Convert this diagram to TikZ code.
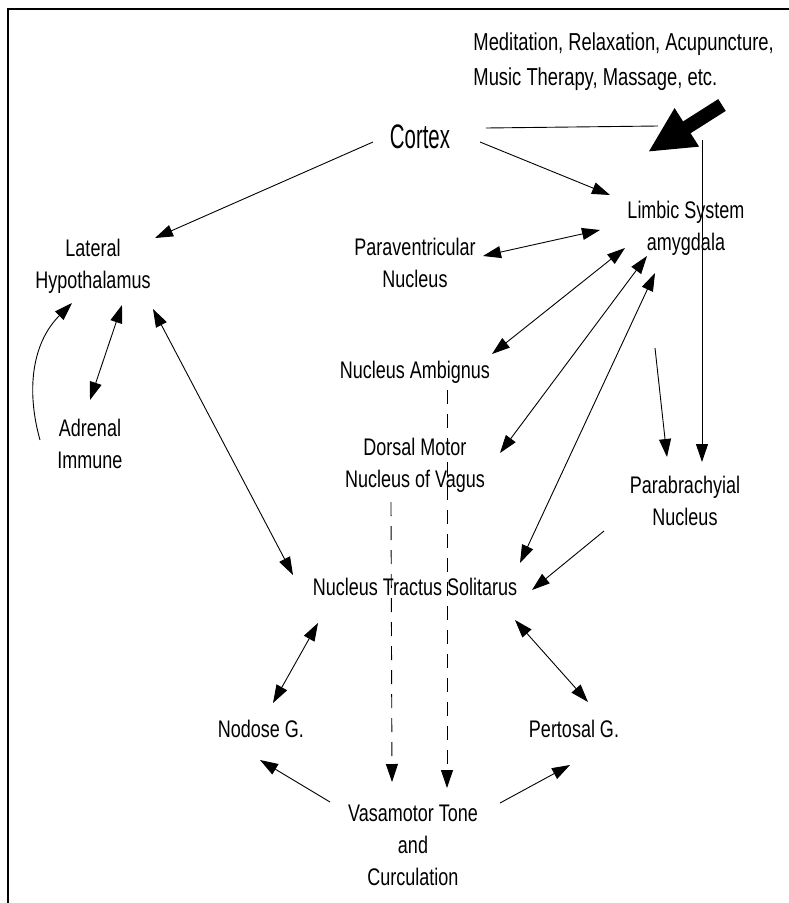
\documentclass[tikz,border=0pt]{standalone}
\usepackage{fontspec}
\setmainfont{Liberation Sans}[FakeStretch=0.75]
\newfontfamily\cortexfamily{Liberation Sans}[FakeStretch=0.6]
\usetikzlibrary{arrows.meta,calc}

\begin{document}
\begin{tikzpicture}[x=1pt,y=1pt,line width=0.9pt,
    >={Triangle[length=18pt,width=12pt]},
    every node/.style={inner sep=0pt,align=center,anchor=base,
      font=\fontsize{24}{32}\selectfont},
    dashline/.style={dash pattern=on 14pt off 10pt},
    bigarrow/.style={line width=14pt,-{Triangle[length=46pt,width=42pt]}}]
\useasboundingbox (0,0) rectangle (789,-903);
\draw [line width=1.5pt] (8,-903) -- (8,-9) -- (789,-9);

% labels (base = last line)
\node (med) at (473,-85) [anchor=base west,align=left,
  font=\fontsize{24.5}{35}\selectfont]
  {Meditation, Relaxation, Acupuncture,\\Music Therapy, Massage, etc.};
\node (cortex) at (420,-148) [font=\cortexfamily\fontsize{34}{40}\selectfont] {Cortex};
\node (limbic) at (686,-250) {Limbic System\\amygdala};
\node (paraven) at (415,-287) {Paraventricular\\Nucleus};
\node (lathyp) at (93,-288) {Lateral\\Hypothalamus};
\node (adrenal) at (90,-468) {Adrenal\\Immune};
\node (ambig) at (415,-378) {Nucleus Ambignus};
\node (dmnv) at (415,-487) {Dorsal Motor\\Nucleus of Vagus};
\node (parab) at (685,-525) {Parabrachyial\\Nucleus};
\node (nts) at (415,-595) {Nucleus Tractus Solitarus};
\node (nodose) at (261,-737) {Nodose G.};
\node (pertosal) at (574,-737) {Pertosal G.};
\node (vaso) at (413,-885) {Vasamotor Tone\\and\\Curculation};
\coordinate (hub) at (680,-135);

% therapies
\draw [bigarrow] ([shift={(249,-20)}]med.base west) -- ([shift={(-32,-17)}]hub);
\draw ([shift={(66,20)}]cortex.base) -- ([shift={(-22,9)}]hub);
\draw [->] ([shift={(22,-5)}]hub) -- ([shift={(17,63)}]parab.base);

% cortex and limbic
\draw [->] ([shift={(-47,6)}]cortex.base) -- ([shift={(62,50)}]lathyp.base);
\draw [->] ([shift={(60,6)}]cortex.base) -- ([shift={(-76,55)}]limbic.base);
\draw [<->] ([shift={(68,31)}]paraven.base) -- ([shift={(-86,20)}]limbic.base);
\draw [<->] ([shift={(-61,2)}]limbic.base) -- ([shift={(77,24)}]ambig.base);
\draw [<->] ([shift={(-39,-6)}]limbic.base) -- ([shift={(85,34)}]dmnv.base);
\draw [<->] ([shift={(-31,-23)}]limbic.base) -- ([shift={(105,32)}]nts.base);
\draw [->] ([shift={(-31,-98)}]limbic.base) -- ([shift={(-18,68)}]parab.base);
\draw [->] ([shift={(-81,-6)}]parab.base) -- ([shift={(117,5)}]nts.base);

% hypothalamus
\draw [<->] ([shift={(60,-21)}]lathyp.base) -- ([shift={(-122,20)}]nts.base);
\draw [<->] ([shift={(29,-17)}]lathyp.base) -- ([shift={(0,68)}]adrenal.base);
\draw [->] ([shift={(-50,28)}]adrenal.base) .. controls +(-14,50) and +(-40,-40) .. ([shift={(-21,-15)}]lathyp.base);

% vagal outflow
\draw [->,dashline] ([shift={(32,-12)}]ambig.base) -- ([shift={(34,97)}]vaso.base);
\draw [->,dashline] ([shift={(-24,-15)}]dmnv.base) -- ([shift={(-21,103)}]vaso.base);
\draw [<->] ([shift={(-97,-28)}]nts.base) -- ([shift={(12,34)}]nodose.base);
\draw [<->] ([shift={(100,-25)}]nts.base) -- ([shift={(14,35)}]pertosal.base);
\draw [->] ([shift={(-83,83)}]vaso.base) -- ([shift={(-1,-23)}]nodose.base);
\draw [->] ([shift={(87,82)}]vaso.base) -- ([shift={(-4,-28)}]pertosal.base);
\end{tikzpicture}
\end{document}
